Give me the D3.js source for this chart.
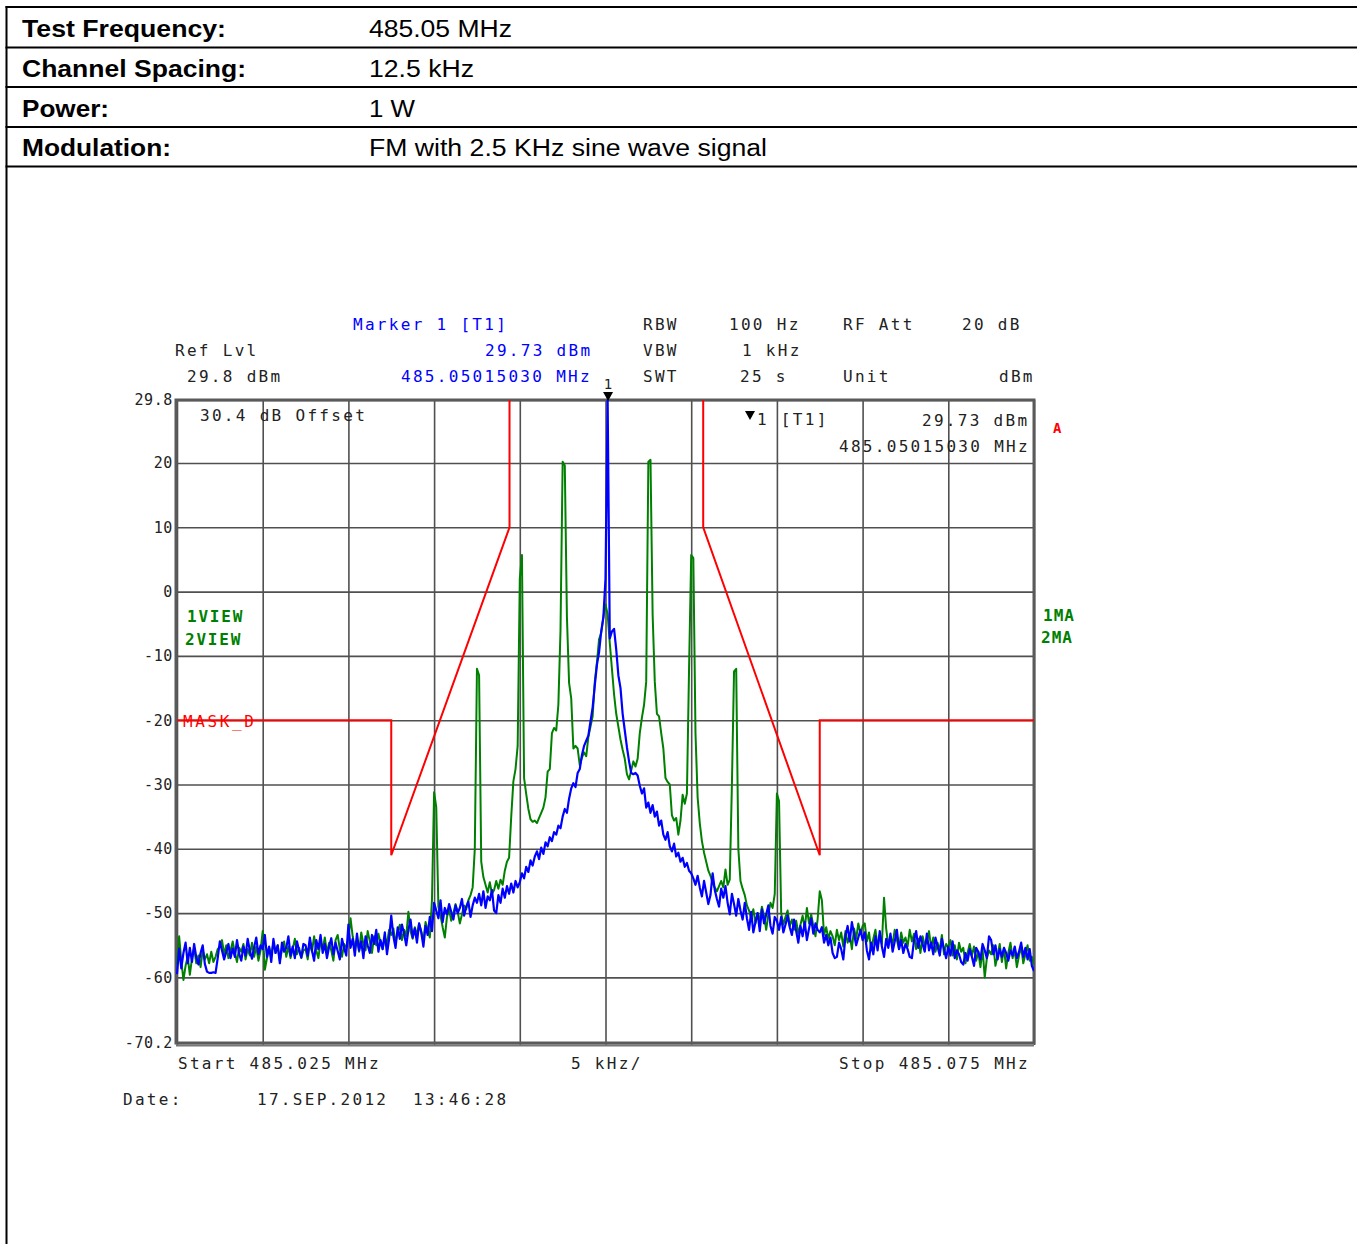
<!DOCTYPE html>
<html>
<head>
<meta charset="utf-8">
<script src="https://cdn.jsdelivr.net/npm/d3@7"></script>
<style>
  body { margin: 0; background: #fff; }
  .sa { font-family: "DejaVu Sans Mono", monospace; font-size: 16px; letter-spacing: 2.3px; fill: #222; }
  .hdr { font-family: "Liberation Sans", Arial, sans-serif; font-size: 23px; fill: #000; }
</style>
</head>
<body>
<svg id="chart" width="1357" height="1244"></svg>
<script>
// Header table rows
var headerLabels = ["Test Frequency:", "Channel Spacing:", "Power:", "Modulation:"];
var headerValues = ["485.05 MHz", "12.5 kHz", "1 W", "FM with 2.5 KHz sine wave signal"];

// Sweep: offset from 485.05 MHz, in kHz
var sweepStartKHz = -25;
var sweepStepKHz = 0.125;

// Trace 1 (blue), dBm, one value per sweep point
var trace1Dbm = [
  -59.5, -55.5, -58.6, -56.2, -54.6, -57.8, -55.4, -57.6, -54.8, -56.9, -58.0, -56.2, -55.0, -57.9, -59.1, -59.3, -59.3, -59.2, -59.3, -57.0,
  -54.4, -55.8, -57.2, -56.0, -54.8, -57.0, -55.5, -56.8, -54.2, -56.3, -57.4, -55.2, -56.6, -54.0, -55.9, -57.1, -55.3, -53.8, -56.4, -55.0,
  -55.6, -53.4, -56.8, -55.2, -57.6, -54.0, -56.2, -55.0, -57.8, -54.6, -56.0, -55.4, -53.6, -56.6, -55.2, -57.0, -54.4, -55.8, -56.9, -54.8,
  -55.0, -56.6, -53.8, -55.8, -57.4, -54.2, -55.6, -53.4, -56.2, -54.8, -57.0, -55.2, -53.9, -56.4, -54.6, -55.9, -57.2, -54.0, -55.4, -56.6,
  -51.8, -55.4, -54.0, -56.6, -53.2, -55.8, -54.4, -57.0, -53.6, -55.0, -56.2, -53.4, -54.8, -52.6, -56.0, -54.2, -55.6, -53.0, -56.4, -54.0,
  -50.4, -53.6, -55.4, -52.2, -54.0, -51.8, -53.2, -55.0, -52.6, -51.0, -53.8, -52.4, -54.6, -51.6, -53.0, -55.2, -52.0, -53.4, -50.6, -52.8,
  -48.4, -49.6, -50.8, -48.0, -51.4, -49.2, -50.2, -48.6, -49.8, -51.0, -48.8, -50.0, -49.2, -47.8, -50.4, -49.0, -48.2, -50.6, -48.8, -47.6,
  -48.4, -47.0, -48.8, -46.6, -49.2, -47.4, -48.0, -46.4, -49.6, -50.0, -47.2, -48.4, -46.2, -47.6, -45.8, -47.0, -45.4, -46.8, -45.0, -46.0,
  -45.2, -43.8, -44.6, -42.8, -43.6, -41.8, -42.6, -41.2, -40.4, -41.6, -39.8, -40.8, -39.0, -39.6, -38.2, -38.8, -37.4, -37.8, -36.4, -36.8,
  -35.0, -33.8, -34.4, -32.2, -30.6, -29.8, -30.4, -28.2, -27.6, -25.4, -24.0, -23.2, -22.4, -20.2, -18.0, -14.6, -11.4, -9.4, -6.2, -4.0,
  2.0, 29.73, -7.3, -6.2, -5.8, -9.0, -13.0, -15.0, -19.0, -21.6, -24.2, -26.4, -28.2, -28.4, -28.2, -28.6, -30.2, -31.4, -30.6, -33.6,
  -32.8, -34.4, -33.2, -35.0, -34.2, -36.4, -35.6, -37.8, -38.6, -37.4, -39.6, -40.4, -39.2, -41.2, -40.6, -42.0, -41.4, -42.8, -42.2, -43.4,
  -43.8, -44.6, -45.6, -44.2, -46.0, -47.4, -45.0, -46.8, -48.6, -47.2, -43.8, -46.4, -47.8, -49.0, -46.2, -47.6, -45.8, -48.4, -50.2, -47.0,
  -48.6, -50.4, -47.8, -49.6, -51.0, -48.4, -50.8, -52.6, -49.8, -53.0, -51.4, -50.0, -52.8, -49.4, -51.6, -50.2, -48.8, -52.0, -53.2, -50.6,
  -51.2, -52.6, -50.6, -53.0, -51.8, -50.4, -52.2, -53.4, -51.0, -52.8, -54.6, -52.0, -53.6, -51.4, -54.2, -52.4, -50.8, -53.2, -51.6, -52.6,
  -53.0, -52.2, -54.6, -53.4, -55.0, -53.8, -56.2, -57.0, -56.8, -54.6, -55.6, -57.2, -53.6, -52.0, -54.4, -51.4, -53.2, -55.0, -53.8, -52.6,
  -54.2, -53.0, -55.8, -57.2, -54.6, -56.4, -53.6, -55.8, -52.8, -55.2, -56.8, -54.0, -55.4, -53.2, -56.0, -54.4, -52.6, -55.6, -54.2, -56.2,
  -54.8, -55.6, -56.8, -57.0, -54.2, -52.8, -55.4, -53.6, -54.8, -56.0, -53.2, -55.8, -54.6, -56.4, -53.8, -55.2, -56.6, -54.0, -55.6, -57.0,
  -55.2, -56.6, -54.4, -57.0, -55.8, -56.4, -57.6, -58.0, -56.2, -57.4, -55.6, -56.8, -58.2, -55.4, -56.0, -57.2, -54.8, -55.8, -57.0, -53.6,
  -54.2, -56.4, -55.0, -57.2, -55.6, -56.8, -55.4, -56.2, -57.4, -55.8, -56.6, -55.2, -57.0, -56.0, -54.6, -56.8, -55.4, -57.2, -55.6, -58.2,
  -59.0
];

// Trace 2 (green, FM modulated), dBm
var trace2Dbm = [
  -58.0, -53.6, -57.4, -60.4, -58.2, -56.8, -59.6, -57.0, -55.4, -57.8, -56.6, -58.4, -55.8, -57.2, -56.4, -57.8, -56.0, -57.6, -56.8, -55.6,
  -55.2, -54.2, -56.4, -55.0, -57.0, -55.8, -54.4, -56.2, -57.6, -55.4, -56.0, -54.8, -57.2, -55.6, -56.6, -54.6, -56.8, -55.2, -57.4, -55.8,
  -52.8, -58.8, -57.0, -55.4, -56.6, -54.6, -56.2, -55.0, -57.4, -55.8, -54.4, -56.8, -55.2, -57.0, -55.6, -54.0, -56.4, -55.4, -57.0, -55.8,
  -55.6, -57.2, -54.8, -56.0, -53.6, -55.8, -57.0, -54.4, -55.6, -53.8, -56.2, -54.6, -55.8, -57.4, -54.2, -53.4, -55.6, -56.8, -54.8, -55.4,
  -54.0, -50.8, -53.6, -55.4, -54.2, -56.0, -53.0, -54.8, -55.8, -52.8, -54.4, -56.2, -53.6, -55.0, -53.2, -54.6, -55.6, -53.8, -54.8, -52.6,
  -53.4, -52.4, -54.6, -53.0, -51.8, -54.2, -52.6, -53.6, -49.8, -52.8, -54.0, -52.2, -53.4, -51.6, -52.8, -54.4, -51.4, -52.6, -53.8, -48.0,
  -31.2, -33.5, -49.0, -50.4, -52.2, -53.8, -50.6, -49.4, -51.2, -50.0, -48.6, -49.8, -51.6, -50.2, -48.8, -49.4, -48.0, -47.2, -46.0, -40.0,
  -12.0, -13.0, -42.0, -44.4, -45.6, -46.8, -45.2, -47.0, -46.4, -45.0, -46.2, -44.8, -45.6, -43.4, -42.0, -41.4, -35.0, -29.5, -27.6, -24.0,
  2.0, 5.7, -29.0, -31.5, -33.8, -35.4, -35.8, -35.6, -36.0, -35.2, -34.4, -33.6, -32.0, -28.0, -27.6, -22.0, -21.2, -21.6, -17.6, -6.0,
  20.2, 19.6, -4.0, -14.2, -16.6, -24.4, -24.0, -24.4, -27.0, -25.8, -25.0, -25.6, -22.6, -21.0, -19.4, -14.0, -11.0, -7.4, -6.4, -4.0,
  -2.0, -3.5, -8.0, -12.0, -16.0, -19.0, -21.0, -23.0, -24.6, -26.0, -28.4, -29.2, -27.8, -26.4, -27.2, -26.0, -22.0, -19.6, -17.6, -14.0,
  20.2, 20.5, -3.6, -14.0, -19.0, -19.4, -22.0, -24.4, -29.0, -29.6, -30.0, -34.8, -35.6, -35.2, -37.8, -35.6, -31.6, -33.0, -31.4, -12.0,
  5.7, 5.2, -22.0, -32.0, -36.0, -38.8, -40.6, -42.0, -43.4, -44.2, -45.4, -46.0, -46.6, -45.8, -45.0, -46.0, -43.2, -45.6, -44.8, -30.0,
  -12.4, -12.0, -40.0, -45.0, -46.2, -47.2, -48.8, -49.6, -50.8, -49.4, -51.6, -50.0, -51.2, -49.0, -50.4, -52.6, -50.2, -48.4, -49.2, -47.0,
  -31.4, -32.6, -50.0, -51.8, -50.6, -49.6, -52.0, -51.0, -52.6, -51.2, -53.2, -51.8, -50.4, -52.4, -49.2, -51.6, -50.2, -52.0, -53.6, -51.0,
  -46.6, -48.0, -53.4, -52.2, -54.0, -52.8, -53.6, -55.0, -52.6, -54.2, -53.0, -55.2, -52.8, -54.6, -53.4, -55.6, -52.4, -54.0, -51.6, -53.2,
  -52.0, -51.6, -54.4, -53.0, -55.8, -54.0, -52.6, -55.2, -53.4, -54.8, -47.6, -52.4, -55.0, -53.6, -54.8, -52.6, -54.2, -55.6, -53.0, -54.6,
  -53.8, -55.2, -52.6, -54.4, -53.2, -55.6, -54.0, -56.2, -53.6, -55.0, -54.4, -52.8, -55.4, -53.8, -56.0, -54.6, -55.8, -53.4, -56.4, -54.8,
  -55.4, -54.2, -56.6, -55.0, -57.2, -54.6, -56.0, -55.4, -57.8, -56.2, -54.8, -56.6, -55.2, -57.4, -56.0, -58.4, -55.6, -60.0, -57.0, -55.8,
  -56.4, -55.0, -58.2, -56.6, -54.8, -57.6, -55.4, -58.6, -56.2, -54.6, -57.0, -55.8, -58.4, -56.6, -55.2, -57.8, -56.4, -55.0, -57.4, -56.8,
  -58.0
];

// Limit line MASK_D (null splits the two halves at the top edge)
var maskFreqKHz = [-25, -12.5, -12.5, -5.6, -5.6, null, 5.7, 5.7, 12.5, 12.5, 25];
var maskDbm     = [-20, -20, -41, 10, 29.8, null, 29.8, 10, -41, -20, -20];

// Marker 1
var markerKHz = 0.15;
var markerDbm = 29.73;

// Axes
var xGridKHz = [-25, -20, -15, -10, -5, 0, 5, 10, 15, 20, 25];
var yTickValues = [29.8, 20, 10, 0, -10, -20, -30, -40, -50, -60, -70.2];
var yTickLabels = ["29.8", "20", "10", "0", "-10", "-20", "-30", "-40", "-50", "-60", "-70.2"];

var svg = d3.select("#chart");

// ---- header table ----
var hdr = svg.append("g");
var headerLabelWidths = [204, 224, 87, 149];
var headerValueWidths = [143, 105, 46, 398];
var rowLines = [7, 47.5, 87, 127, 166.5];

rowLines.forEach(function(yy) {
  hdr.append("line").attr("x1", 5.5).attr("x2", 1357).attr("y1", yy).attr("y2", yy)
     .attr("stroke", "#000").attr("stroke-width", 2);
});
hdr.append("line").attr("x1", 6.5).attr("x2", 6.5).attr("y1", 6).attr("y2", 1244)
   .attr("stroke", "#000").attr("stroke-width", 2);

headerLabels.forEach(function(t, i) {
  hdr.append("text").attr("class", "hdr").attr("x", 22).attr("y", 37 + i * 39.8)
     .attr("font-weight", "bold")
     .attr("textLength", headerLabelWidths[i]).attr("lengthAdjust", "spacingAndGlyphs")
     .text(t);
  hdr.append("text").attr("class", "hdr").attr("x", 369).attr("y", 37 + i * 39.8)
     .attr("textLength", headerValueWidths[i]).attr("lengthAdjust", "spacingAndGlyphs")
     .text(headerValues[i]);
});

// ---- plot ----
var x = d3.scaleLinear().domain([-25, 25]).range([177, 1034]);
var y = d3.scaleLinear().domain([-70.2, 29.8]).range([1043, 400]);

var plotW = 1034 - 176;
var plotH = 1043 - 400;

// vertical grid
svg.append("g")
    .attr("transform", "translate(0,1045)")
    .call(d3.axisBottom(x).tickValues(xGridKHz).tickSize(-(plotH + 2)).tickFormat(""))
    .call(function(g) { g.select(".domain").remove(); })
    .call(function(g) { g.selectAll("line").attr("stroke", "#505050").attr("stroke-width", 1.6); });

// horizontal grid + y labels
svg.append("g")
    .attr("transform", "translate(176,0)")
    .call(d3.axisLeft(y).tickValues(yTickValues).tickSize(-plotW).tickPadding(3)
        .tickFormat(function(d, i) { return yTickLabels[i]; }))
    .call(function(g) { g.select(".domain").remove(); })
    .call(function(g) { g.selectAll("line").attr("stroke", "#505050").attr("stroke-width", 1.6); })
    .call(function(g) {
      g.selectAll("text")
        .attr("font-family", "DejaVu Sans Mono, monospace")
        .attr("font-size", 15)
        .attr("letter-spacing", "0.6px")
        .attr("fill", "#222");
    });

// frame
svg.append("rect")
    .attr("x", 176).attr("y", 400).attr("width", plotW).attr("height", plotH)
    .attr("fill", "none").attr("stroke", "#5a5a5a").attr("stroke-width", 3);
svg.append("line").attr("x1", 176).attr("x2", 1034).attr("y1", 1045.5).attr("y2", 1045.5)
    .attr("stroke", "#777").attr("stroke-width", 2);

svg.append("clipPath").attr("id", "plotClip")
  .append("rect").attr("x", 176).attr("y", 399).attr("width", plotW).attr("height", plotH + 1);

var traceLine = d3.line()
    .x(function(d, i) { return x(sweepStartKHz + i * sweepStepKHz); })
    .y(function(d) { return y(d); });

var plot = svg.append("g").attr("clip-path", "url(#plotClip)");

// mask
var maskPts = maskFreqKHz.map(function(f, i) { return [f, maskDbm[i]]; });
plot.append("path")
    .datum(maskPts)
    .attr("fill", "none").attr("stroke", "#ff0000").attr("stroke-width", 2)
    .attr("d", d3.line().defined(function(d) { return d[0] !== null; })
        .x(function(d) { return x(d[0]); }).y(function(d) { return y(d[1]); }));

plot.append("path")
    .datum(trace2Dbm)
    .attr("fill", "none").attr("stroke", "#008000").attr("stroke-width", 2)
    .attr("stroke-linejoin", "round")
    .attr("d", traceLine);

plot.append("path")
    .datum(trace1Dbm)
    .attr("fill", "none").attr("stroke", "#0000ff").attr("stroke-width", 2.2)
    .attr("stroke-linejoin", "round")
    .attr("d", traceLine);

// marker triangle on top edge
var mx = x(markerKHz);
svg.append("path")
    .attr("d", "M" + (mx - 5) + ",392L" + (mx + 5) + ",392L" + mx + ",401Z")
    .attr("fill", "#000");
svg.append("text").attr("x", mx).attr("y", 389).attr("text-anchor", "middle")
    .attr("font-family", "DejaVu Sans Mono, monospace").attr("font-size", 14).attr("fill", "#222")
    .text("1");

// ---- analyzer annotations ----
function label(t, px, py, color, cls) {
  return svg.append("text").attr("class", cls || "sa").attr("x", px).attr("y", py)
      .style("fill", color || "#222").text(t);
}

label("Marker 1 [T1]", 353, 330, "#0000ff");
label(markerDbm.toFixed(2) + " dBm", 485, 356, "#0000ff");
label("485.05015030 MHz", 401, 382, "#0000ff");

label("Ref Lvl", 175, 356);
label("29.8 dBm", 187, 382);

label("RBW", 643, 330);
label("100 Hz", 729, 330);
label("RF Att", 843, 330);
label("20 dB", 962, 330);
label("VBW", 643, 356);
label("1 kHz", 742, 356);
label("SWT", 643, 382);
label("25 s", 740, 382);
label("Unit", 843, 382);
label("dBm", 999, 382);

label("30.4 dB Offset", 200, 421);

svg.append("path").attr("d", "M745,411L755,411L750,420Z").attr("fill", "#000");
label("1 [T1]", 757, 425);
label(markerDbm.toFixed(2) + " dBm", 922, 426);
label("485.05015030 MHz", 839, 452);

label("A", 1053, 433, "#ff0000").style("font-weight", "bold").style("font-size", "14px");

label("1VIEW", 187, 622, "#008000").style("font-weight", "bold").style("letter-spacing", "1.8px");
label("2VIEW", 185, 645, "#008000").style("font-weight", "bold").style("letter-spacing", "1.8px");
label("1MA", 1043, 621, "#008000").style("font-weight", "bold").style("letter-spacing", "1px");
label("2MA", 1041, 643, "#008000").style("font-weight", "bold").style("letter-spacing", "1px");

label("MASK_D", 183, 727, "#ff0000").style("letter-spacing", "2.6px");

label("Start 485.025 MHz", 178, 1069);
label("5 kHz/", 571, 1069);
label("Stop 485.075 MHz", 839, 1069);

label("Date:", 123, 1105);
label("17.SEP.2012", 257, 1105);
label("13:46:28", 413, 1105);
</script>
</body>
</html>
